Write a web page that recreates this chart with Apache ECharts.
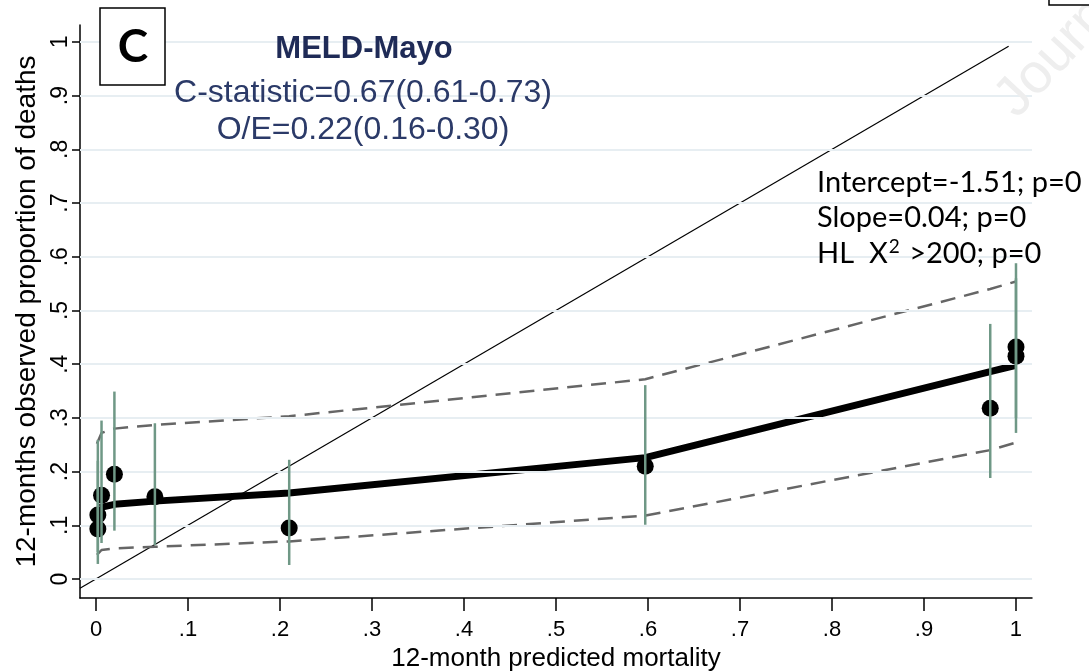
<!DOCTYPE html>
<html>
<head>
<meta charset="utf-8">
<script src="https://cdn.jsdelivr.net/npm/echarts@6/dist/echarts.min.js"></script>
<style>
html,body{margin:0;padding:0;background:#fff;}
#chart{width:1089px;height:671px;}
</style>
</head>
<body>
<div id="chart"></div>
<script>
// ---- data ----
const xTicks = [0, 0.1, 0.2, 0.3, 0.4, 0.5, 0.6, 0.7, 0.8, 0.9, 1];
const xTickLabels = ['0', '.1', '.2', '.3', '.4', '.5', '.6', '.7', '.8', '.9', '1'];
const yTicks = [0, 0.1, 0.2, 0.3, 0.4, 0.5, 0.6, 0.7, 0.8, 0.9, 1];
const yTickLabels = ['0', '.1', '.2', '.3', '.4', '.5', '.6', '.7', '.8', '.9', '1'];

// grouped observations (predicted vs observed, with 95% CI)
const predicted = [0.002, 0.002, 0.006, 0.02, 0.064, 0.21, 0.597, 0.972, 1.0, 1.0];
const observed  = [0.093, 0.119, 0.156, 0.195, 0.153, 0.095, 0.21, 0.318, 0.415, 0.432];
const ciLow     = [0.028, 0.05, 0.067, 0.09, 0.063, 0.026, 0.101, 0.188, 0.272, 0.30];
const ciHigh    = [0.22, 0.259, 0.295, 0.349, 0.29, 0.222, 0.361, 0.475, 0.56, 0.588];

// fitted calibration curve
const fitX = [0.004, 0.02, 0.064, 0.21, 0.597, 0.972, 1.0];
const fitY = [0.133, 0.139, 0.145, 0.16, 0.226, 0.386, 0.398];

// confidence band of the fitted curve
const bandX     = [0.001, 0.006, 0.02, 0.064, 0.21, 0.597, 0.972, 1.0];
const bandUpper = [0.252, 0.272, 0.28, 0.287, 0.303, 0.372, 0.54, 0.554];
const bandLower = [0.045, 0.054, 0.057, 0.06, 0.07, 0.118, 0.24, 0.254];

// line of perfect calibration
const diagX = [-0.0174, 0.992];

const panelLabel = 'C';
const statTitle = 'MELD-Mayo';
const statLines = ['C-statistic=0.67(0.61-0.73)', 'O/E=0.22(0.16-0.30)'];
const fitLines = ['Intercept=-1.51; p=0', 'Slope=0.04; p=0'];
const hlParts = ['HL  X', '2', ' >200; p=0'];
const watermark = 'Journal Pre-proof';

// ---- build ----
const pts = predicted.map((x, i) => [x, observed[i]]);
const bars = predicted.map((x, i) => [x, ciLow[i], ciHigh[i]]);
const fit = fitX.map((x, i) => [x, fitY[i]]);
const up = bandX.map((x, i) => [x, bandUpper[i]]);
const lo = bandX.map((x, i) => [x, bandLower[i]]);
const diag = diagX.map(v => [v, v]);

const FONT = 'Liberation Sans, Arial, sans-serif';
const chart = echarts.init(document.getElementById('chart'), null, {renderer: 'canvas'});

chart.setOption({
  animation: false,
  backgroundColor: '#fff',
  grid: {left: 80, right: 57, top: 25, bottom: 73, containLabel: false, outerBoundsMode: 'none'},
  xAxis: {
    type: 'value', min: -0.0174, max: 1.0174,
    axisLine: {show: true, onZero: false, lineStyle: {color: '#000', width: 1.5}},
    axisTick: {show: true, customValues: xTicks, length: 13, lineStyle: {color: '#000', width: 1.5}},
    axisLabel: {customValues: xTicks, margin: 21, color: '#000', fontFamily: FONT, fontSize: 22,
      formatter: v => xTickLabels[Math.round(v * 10)]},
    splitLine: {show: false},
    name: '12-month predicted mortality', nameLocation: 'middle', nameGap: 46,
    nameTextStyle: {color: '#000', fontFamily: FONT, fontSize: 26}
  },
  yAxis: {
    type: 'value', min: -0.0354, max: 1.0316,
    axisLine: {show: true, onZero: false, lineStyle: {color: '#000', width: 1.5}},
    axisTick: {show: true, customValues: yTicks, length: 8, lineStyle: {color: '#000', width: 1.5}},
    axisLabel: {customValues: yTicks, rotate: 90, margin: 8, color: '#000', fontFamily: FONT, fontSize: 23,
      formatter: v => yTickLabels[Math.round(v * 10)]},
    splitLine: {show: false},
    name: '12-months observed proportion of deaths', nameLocation: 'middle', nameGap: 38, nameRotate: 90,
    nameTextStyle: {color: '#000', fontFamily: FONT, fontSize: 28}
  },
  series: [
    {
      type: 'line', data: [], silent: true,
      markLine: {
        silent: true, symbol: ['none', 'none'], label: {show: false},
        lineStyle: {color: '#e7eef2', width: 2, type: 'solid'},
        data: yTicks.map(v => ({yAxis: v}))
      }
    },
    {type: 'line', data: diag, symbol: 'none', lineStyle: {color: '#000', width: 1.2}, z: 2},
    {type: 'line', data: up, symbol: 'none', lineStyle: {color: '#666', width: 2.5, type: [15, 9]}, z: 3},
    {type: 'line', data: lo, symbol: 'none', lineStyle: {color: '#666', width: 2.5, type: [15, 9]}, z: 3},
    {type: 'line', data: fit, symbol: 'none', lineStyle: {color: '#000', width: 7}, z: 4},
    {type: 'scatter', data: pts, symbol: 'circle', symbolSize: 17, itemStyle: {color: '#000', opacity: 1}, z: 5},
    {
      type: 'custom', data: bars, z: 6,
      renderItem: (params, api) => {
        const a = api.coord([api.value(0), api.value(1)]);
        const b = api.coord([api.value(0), api.value(2)]);
        return {type: 'line', shape: {x1: a[0], y1: a[1], x2: b[0], y2: b[1]},
          style: {stroke: '#6f9886', lineWidth: 2.5}};
      }
    }
  ],
  graphic: [
    {type: 'text', x: 1026, y: 128, rotation: 0.82, z: 100,
      style: {text: watermark, fill: '#eeeeee', font: '56px Liberation Sans, Arial, sans-serif',
        textAlign: 'left', textVerticalAlign: 'bottom'}},
    {type: 'rect', z: 100, shape: {x: 1049, y: -10, width: 60, height: 15}, style: {fill: '#fff', stroke: '#000', lineWidth: 1.5}},
    {type: 'rect', z: 100, shape: {x: 100, y: 8, width: 65, height: 77}, style: {fill: '#fff', stroke: '#000', lineWidth: 1.5}},
    {type: 'text', z: 101, x: 133, y: 47, style: {text: panelLabel, font: 'bold 46px Lato, Open Sans, sans-serif', fill: '#000',
      textAlign: 'center', textVerticalAlign: 'middle'}},
    {type: 'text', z: 100, x: 364, y: 49, style: {text: statTitle, font: 'bold 31px Liberation Sans, Arial, sans-serif',
      fill: '#1f2b57', textAlign: 'center', textVerticalAlign: 'middle'}},
    {type: 'text', z: 100, x: 363, y: 93, style: {text: statLines[0], font: '32px Liberation Sans, Arial, sans-serif',
      fill: '#2b3a68', textAlign: 'center', textVerticalAlign: 'middle'}},
    {type: 'text', z: 100, x: 363, y: 130, style: {text: statLines[1], font: '32px Liberation Sans, Arial, sans-serif',
      fill: '#2b3a68', textAlign: 'center', textVerticalAlign: 'middle'}},
    {type: 'text', z: 100, x: 817, y: 183, style: {text: fitLines[0], font: '29px Lato, Open Sans, sans-serif',
      fill: '#000', textAlign: 'left', textVerticalAlign: 'middle'}},
    {type: 'text', z: 100, x: 817, y: 218, style: {text: fitLines[1], font: '29px Lato, Open Sans, sans-serif',
      fill: '#000', textAlign: 'left', textVerticalAlign: 'middle'}},
    {type: 'text', z: 100, x: 817, y: 254, style: {
      text: '{a|' + hlParts[0] + '}{b|' + hlParts[1] + '}{a|' + hlParts[2] + '}',
      textAlign: 'left', textVerticalAlign: 'middle',
      rich: {
        a: {font: '29px Lato, Open Sans, sans-serif', fill: '#000', lineHeight: 34},
        b: {font: '19px Lato, Open Sans, sans-serif', fill: '#000', lineHeight: 34, padding: [0, 2, 14, 1]}
      }}}
  ]
});
</script>
</body>
</html>
